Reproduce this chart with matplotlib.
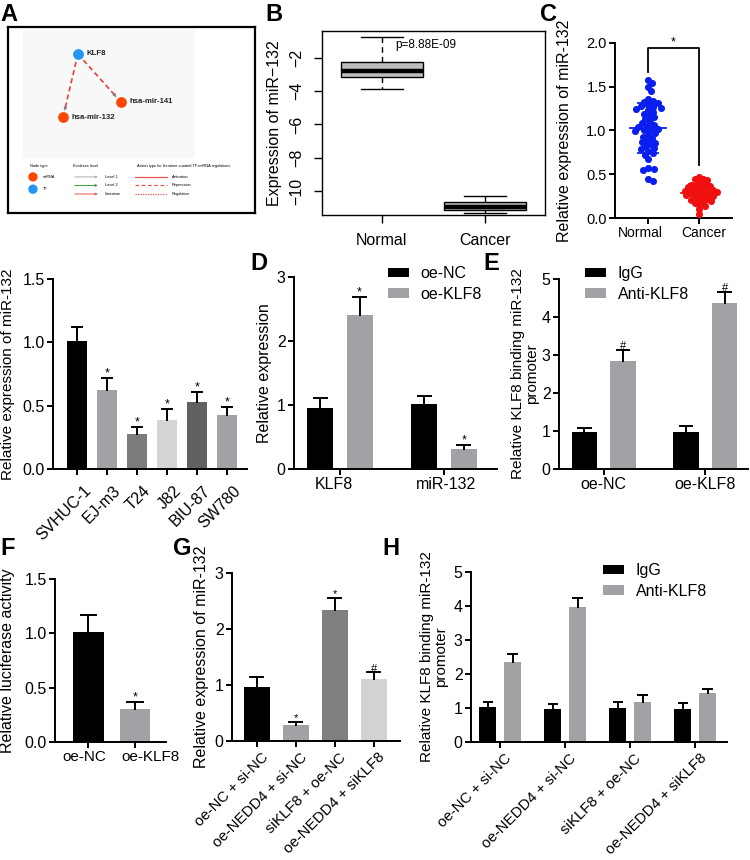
import numpy as np
import matplotlib.pyplot as plt
from matplotlib.patches import Rectangle
from matplotlib.transforms import ScaledTranslation

plt.rcParams['font.family'] = ['Liberation Sans', 'DejaVu Sans']

W, H = 750, 860

# ---------------- data ----------------
# B: TCGA boxplot (log expression)
b_groups = ['Normal', 'Cancer']
b_whislo = [-3.88, -11.30]
b_q1 = [-3.17, -11.15]
b_med = [-2.77, -10.95]
b_q3 = [-2.22, -10.65]
b_whishi = [-0.77, -10.28]
b_pval = 'p=8.88E-09'

# C: tissue samples
c_groups = ['Normal', 'Cancer']
c_normal = [1.58, 1.54, 1.50, 1.45, 1.36, 1.34, 1.33, 1.31, 1.29, 1.28, 1.27, 1.26,
            1.25, 1.23, 1.21, 1.19, 1.17, 1.15, 1.13, 1.10, 1.08, 1.06, 1.05, 1.04,
            1.02, 1.01, 1.00, 0.99, 0.97, 0.95, 0.93, 0.91, 0.89, 0.87, 0.86, 0.84,
            0.82, 0.80, 0.79, 0.77, 0.74, 0.72, 0.67, 0.57, 0.56, 0.55, 0.45, 0.42]
c_cancer = [0.47, 0.45, 0.44, 0.43, 0.42, 0.40, 0.39, 0.38, 0.37, 0.36, 0.36,
            0.35, 0.34, 0.33, 0.33, 0.32, 0.31, 0.31, 0.30, 0.30, 0.29, 0.28,
            0.28, 0.27, 0.26, 0.25, 0.25, 0.24, 0.23, 0.22, 0.21, 0.20, 0.19,
            0.18, 0.17, 0.15, 0.14, 0.10, 0.05]

# cell lines
cell_lines = ['SVHUC-1', 'EJ-m3', 'T24', 'J82', 'BIU-87', 'SW780']
cell_mean = [1.01, 0.62, 0.28, 0.39, 0.53, 0.43]
cell_err = [0.11, 0.10, 0.05, 0.08, 0.08, 0.06]
cell_sig = ['', '*', '*', '*', '*', '*']

# D
d_genes = ['KLF8', 'miR-132']
d_nc = [0.96, 1.02]
d_nc_err = [0.15, 0.12]
d_klf8 = [2.41, 0.31]
d_klf8_err = [0.27, 0.07]

# E
e_groups = ['oe-NC', 'oe-KLF8']
e_igg = [0.97, 0.97]
e_igg_err = [0.11, 0.15]
e_anti = [2.85, 4.37]
e_anti_err = [0.29, 0.30]

# F
f_groups = ['oe-NC', 'oe-KLF8']
f_mean = [1.01, 0.30]
f_err = [0.16, 0.07]

# G
g_groups = ['oe-NC + si-NC', 'oe-NEDD4 + si-NC', 'siKLF8 + oe-NC', 'oe-NEDD4 + siKLF8']
g_mean = [0.96, 0.28, 2.34, 1.11]
g_err = [0.19, 0.06, 0.22, 0.12]
g_sig = ['', '*', '*', '#']

# H
h_igg = [1.02, 0.96, 1.00, 0.97]
h_igg_err = [0.17, 0.15, 0.17, 0.18]
h_anti = [2.35, 3.97, 1.19, 1.44]
h_anti_err = [0.23, 0.27, 0.18, 0.12]

BLACK = '#000000'
GRAY = '#a2a2a6'
cell_colors = ['#000000', '#a2a2a6', '#7c7c7c', '#d4d4d4', '#616161', '#a2a2a6']
g_colors = ['#000000', '#a2a2a6', '#7f7f7f', '#d2d2d2']
FS = 11.5


def rect(x0, y0, x1, y1):
    return [x0 / W, 1 - y1 / H, (x1 - x0) / W, (y1 - y0) / H]


def prism(ax, lw=1.4, fs=FS):
    for s in ['top', 'right']:
        ax.spines[s].set_visible(False)
    for s in ['left', 'bottom']:
        ax.spines[s].set_linewidth(lw)
    ax.tick_params(direction='out', length=4, width=lw, labelsize=fs, pad=2)


def ylab_at(ax, box, px, text, fs=FS):
    # px = right edge of the rotated label, in figure pixels
    ax.set_ylabel(text, fontsize=fs)
    ax.yaxis.set_label_coords((px - box[0]) / (box[2] - box[0]), 0.5)


def shift_xlabels(ax, dxs, dy=0):
    for lab, dx in zip(ax.get_xticklabels(), dxs):
        lab.set_transform(lab.get_transform() + ScaledTranslation(dx / 100, -dy / 100, fig.dpi_scale_trans))


def errbars(ax, x, means, errs, width, sig=None, sig_size=9):
    for i in range(len(x)):
        top = means[i] + errs[i]
        ax.plot([x[i], x[i]], [means[i], top], color='black', lw=1.4, zorder=3)
        ax.plot([x[i] - width / 4, x[i] + width / 4], [top, top], color='black', lw=1.4, zorder=3)
        if sig and sig[i]:
            ax.annotate(sig[i], (x[i], top), xytext=(0, -1), textcoords='offset points',
                        ha='center', va='bottom', fontsize=sig_size)


def swarm(values, px_x, px_y, diam):
    values = np.asarray(values)
    order = np.argsort(values)[::-1]
    placed = []
    out = np.zeros(len(values))
    for i in order:
        y = values[i] * px_y
        dx = None
        for step in range(400):
            for sgn in (1, -1):
                cand = sgn * step * 0.5
                if all((cand - a) ** 2 + (y - b) ** 2 >= diam ** 2 for a, b in placed):
                    dx = cand
                    break
            if dx is not None:
                break
        placed.append((dx, y))
        out[i] = dx / px_x
    return out


fig = plt.figure(figsize=(W / 100, H / 100), dpi=100)

# ---------------- A: network ----------------
boxA = (8, 27, 255, 213)
axA = fig.add_axes(rect(*boxA))
axA.set_xlim(0, 1)
axA.set_ylim(0, 1)
axA.set_xticks([])
axA.set_yticks([])
for s in axA.spines.values():
    s.set_linewidth(1.6)
axA.add_patch(Rectangle((0.061, 0.296), 0.696, 0.688, color='#f8f8f8', lw=0))
nodes = {'KLF8': (0.283, 0.855, '#2196f3'),
         'hsa-mir-141': (0.457, 0.597, '#ff4500'),
         'hsa-mir-132': (0.223, 0.516, '#ff4500')}
for src, dst in [('KLF8', 'hsa-mir-132'), ('KLF8', 'hsa-mir-141')]:
    x0, y0, _ = nodes[src]
    x1, y1, _ = nodes[dst]
    axA.plot([x0, x0 + 0.86 * (x1 - x0)], [y0, y0 + 0.86 * (y1 - y0)],
             color='#f03a3a', lw=1.2, ls=(0, (3, 2)))
    axA.annotate('', xy=(x0 + 0.9 * (x1 - x0), y0 + 0.9 * (y1 - y0)),
                 xytext=(x0 + 0.83 * (x1 - x0), y0 + 0.83 * (y1 - y0)),
                 arrowprops=dict(arrowstyle='-|>', color='#808080', lw=0.6, mutation_scale=5))
for name, (x, y, col) in nodes.items():
    axA.scatter([x], [y], s=60, color=col, zorder=4, lw=0)
    axA.text(x + 0.035, y, name, fontsize=5.6, fontweight='bold', va='center', color='#222222')
lfs = 2.8
axA.text(0.089, 0.253, 'Node type', fontsize=lfs, va='center')
axA.text(0.263, 0.253, 'Evidence level', fontsize=lfs, va='center')
axA.text(0.522, 0.253, 'Action type for literature-curated TF-miRNA regulations', fontsize=lfs, va='center')
rows = [0.194, 0.148, 0.102]
axA.scatter([0.101, 0.101], [rows[0], rows[1] - 0.02], s=45, color=['#ff4500', '#2196f3'], zorder=3, lw=0)
axA.text(0.142, rows[0], 'miRNA', fontsize=lfs, va='center')
axA.text(0.142, rows[1] - 0.02, 'TF', fontsize=lfs, va='center')
for r, col, lab in zip(rows, ['#b0b0b0', '#3a9a3a', '#f05050'], ['Level 1', 'Level 2', 'Literature']):
    axA.annotate('', xy=(0.375, r), xytext=(0.259, r),
                 arrowprops=dict(arrowstyle='-|>', color=col, lw=0.7, mutation_scale=3))
    axA.text(0.393, r, lab, fontsize=lfs, va='center')
for r, ls, lab in zip(rows, ['-', (0, (3, 2)), (0, (1, 1))], ['Activation', 'Repression', 'Regulation']):
    axA.plot([0.514, 0.644], [r, r], color='#f05050', lw=0.9, ls=ls)
    axA.text(0.664, r, lab, fontsize=lfs, va='center')

# ---------------- B: boxplot ----------------
boxB = (322, 31, 545, 215)
axB = fig.add_axes(rect(*boxB))
stats = [dict(med=b_med[i], q1=b_q1[i], q3=b_q3[i], whislo=b_whislo[i],
              whishi=b_whishi[i], fliers=[], label=b_groups[i]) for i in range(2)]
axB.bxp(stats, positions=[1, 2], widths=0.8, capwidths=0.4, patch_artist=True,
        boxprops=dict(facecolor='#bebebe', edgecolor='black', lw=1),
        medianprops=dict(color='black', lw=3.2),
        whiskerprops=dict(color='black', lw=1, ls=(0, (4, 3))),
        capprops=dict(color='black', lw=1))
axB.set_xlim(0.42, 2.58)
axB.set_ylim(-11.44, -0.38)
axB.set_yticks([-10, -8, -6, -4, -2])
axB.set_yticklabels(['\u221210', '\u22128', '\u22126', '\u22124', '\u22122'], rotation=90, va='center')
axB.tick_params(direction='out', length=6, width=1, labelsize=11.5, pad=7)
for s in axB.spines.values():
    s.set_linewidth(1)
axB.text(1.13, -1.2, b_pval, fontsize=8.5, va='center', ha='left')
ylab_at(axB, boxB, 282, 'Expression of miR\u2212132')

# ---------------- C: scatter ----------------
boxC = (615, 43, 732, 218)
axC = fig.add_axes(rect(*boxC))
prism(axC, fs=10.5)
px_x, px_y = (boxC[2] - boxC[0]) / 2.3, (boxC[3] - boxC[1]) / 2.0
for i, (vals, col, d) in enumerate([(c_normal, '#0a1ef0', 5.2), (c_cancer, '#f01010', 4.2)]):
    xs = i + swarm(vals, px_x, px_y, d)
    axC.scatter(xs, vals, s=26, color=col, lw=0, zorder=3)
    m, sd = np.mean(vals), np.std(vals, ddof=1)
    axC.plot([i - 0.35, i + 0.35], [m, m], color=col, lw=1.3, zorder=4)
    axC.plot([i - 0.2, i + 0.2], [m + sd, m + sd], color=col, lw=1.3, zorder=4)
    axC.plot([i - 0.2, i + 0.2], [m - sd, m - sd], color=col, lw=1.3, zorder=4)
    axC.plot([i, i], [m - sd, m + sd], color=col, lw=1.3, zorder=4)
axC.plot([0, 0, 1, 1], [1.67, 1.94, 1.94, 0.61], color='black', lw=1.3)
axC.text(0.5, 1.94, '*', ha='center', va='bottom', fontsize=9)
axC.set_xlim(-0.65, 1.65)
axC.set_ylim(0, 2.0)
axC.set_yticks([0, 0.5, 1.0, 1.5, 2.0])
axC.set_yticklabels(['0.0', '0.5', '1.0', '1.5', '2.0'])
axC.set_xticks([0, 1])
axC.set_xticklabels(c_groups)
axC.tick_params(axis='x', labelsize=10)
shift_xlabels(axC, [-8, 5])
ylab_at(axC, boxC, 572, 'Relative expression of miR-132', fs=11.5)

# ---------------- cell lines ----------------
boxL = (53, 279, 247, 469)
axL = fig.add_axes(rect(*boxL))
prism(axL)
xL = np.arange(len(cell_lines))
axL.bar(xL, cell_mean, width=0.67, color=cell_colors, zorder=2)
errbars(axL, xL, cell_mean, cell_err, 0.67, cell_sig)
axL.set_xlim(-0.8, 5.67)
axL.set_ylim(0, 1.5)
axL.set_yticks([0, 0.5, 1.0, 1.5])
axL.set_yticklabels(['0.0', '0.5', '1.0', '1.5'])
axL.set_xticks(xL)
axL.set_xticklabels(cell_lines, rotation=45, ha='right', rotation_mode='anchor')
shift_xlabels(axL, [6] * 6, dy=6)
ylab_at(axL, boxL, 15, 'Relative expression of miR-132', fs=11)

# ---------------- D ----------------
boxD = (294, 277, 497, 469)
axD = fig.add_axes(rect(*boxD))
prism(axD)
xD = np.arange(len(d_genes))
bw = 0.25
axD.bar(xD - 0.19, d_nc, width=bw, color=BLACK, label='oe-NC', zorder=2)
axD.bar(xD + 0.19, d_klf8, width=bw, color=GRAY, label='oe-KLF8', zorder=2)
errbars(axD, xD - 0.19, d_nc, d_nc_err, bw)
errbars(axD, xD + 0.19, d_klf8, d_klf8_err, bw, ['*', '*'])
axD.set_xlim(-0.44, 1.51)
axD.set_ylim(0, 3)
axD.set_yticks([0, 1, 2, 3])
axD.set_xticks(xD)
axD.set_xticklabels(d_genes)
shift_xlabels(axD, [-6, 2])
ylab_at(axD, boxD, 272, 'Relative expression')
axD.legend(loc='upper left', bbox_to_anchor=(388 / W, 1 - 266 / H), bbox_transform=fig.transFigure,
           frameon=False, fontsize=FS, borderpad=0, borderaxespad=0, handlelength=1.3,
           handleheight=0.55, handletextpad=0.75, labelspacing=0.35)

# ---------------- E ----------------
boxE = (559, 279, 748, 469)
axE = fig.add_axes(rect(*boxE))
prism(axE)
xE = np.arange(len(e_groups))
axE.bar(xE - 0.19, e_igg, width=bw, color=BLACK, label='IgG', zorder=2)
axE.bar(xE + 0.19, e_anti, width=bw, color=GRAY, label='Anti-KLF8', zorder=2)
errbars(axE, xE - 0.19, e_igg, e_igg_err, bw)
errbars(axE, xE + 0.19, e_anti, e_anti_err, bw, ['#', '#'], sig_size=8)
axE.set_xlim(-0.44, 1.42)
axE.set_ylim(0, 5)
axE.set_yticks([0, 1, 2, 3, 4, 5])
axE.set_xticks(xE)
axE.set_xticklabels(e_groups)
ylab_at(axE, boxE, 539, 'Relative KLF8 binding miR-132\npromoter', fs=11)
axE.yaxis.label.set_multialignment('center')
axE.yaxis.label.set_linespacing(1.0)
axE.legend(loc='upper left', bbox_to_anchor=(585 / W, 1 - 266 / H), bbox_transform=fig.transFigure,
           frameon=False, fontsize=FS, borderpad=0, borderaxespad=0, handlelength=1.3,
           handleheight=0.55, handletextpad=0.75, labelspacing=0.35)

# ---------------- F ----------------
boxF = (55, 579, 166, 742)
axF = fig.add_axes(rect(*boxF))
prism(axF)
xF = np.arange(len(f_groups))
axF.bar(xF, f_mean, width=0.66, color=[BLACK, GRAY], zorder=2)
errbars(axF, xF, f_mean, f_err, 0.66, ['', '*'])
axF.set_xlim(-0.72, 1.67)
axF.set_ylim(0, 1.5)
axF.set_yticks([0, 0.5, 1.0, 1.5])
axF.set_yticklabels(['0.0', '0.5', '1.0', '1.5'])
axF.set_xticks(xF)
axF.set_xticklabels(f_groups)
axF.tick_params(axis='x', labelsize=11)
shift_xlabels(axF, [-4, 16])
ylab_at(axF, boxF, 15, 'Relative luciferase activity')

# ---------------- G ----------------
boxG = (232, 573, 400, 741)
axG = fig.add_axes(rect(*boxG))
prism(axG)
xG = np.arange(len(g_groups))
axG.bar(xG, g_mean, width=0.67, color=g_colors, zorder=2)
errbars(axG, xG, g_mean, g_err, 0.67, g_sig, sig_size=8)
axG.set_xlim(-0.64, 3.67)
axG.set_ylim(0, 3)
axG.set_yticks([0, 1, 2, 3])
axG.set_xticks(xG)
axG.set_xticklabels(g_groups, rotation=45, ha='right', rotation_mode='anchor')
axG.tick_params(axis='x', labelsize=10.8)
shift_xlabels(axG, [4] * 4, dy=1)
ylab_at(axG, boxG, 209, 'Relative expression of miR-132')

# ---------------- H ----------------
boxH = (471, 572, 727, 742)
axH = fig.add_axes(rect(*boxH))
prism(axH)
xH = np.arange(len(g_groups))
bh = 0.26
axH.bar(xH - 0.19, h_igg, width=bh, color=BLACK, label='IgG', zorder=2)
axH.bar(xH + 0.19, h_anti, width=bh, color=GRAY, label='Anti-KLF8', zorder=2)
errbars(axH, xH - 0.19, h_igg, h_igg_err, bh)
errbars(axH, xH + 0.19, h_anti, h_anti_err, bh)
axH.set_xlim(-0.45, 3.49)
axH.set_ylim(0, 5)
axH.set_yticks([0, 1, 2, 3, 4, 5])
axH.set_xticks(xH)
axH.set_xticklabels(g_groups, rotation=45, ha='right', rotation_mode='anchor')
axH.tick_params(axis='x', labelsize=10.8)
shift_xlabels(axH, [4] * 4, dy=1)
ylab_at(axH, boxH, 448, 'Relative KLF8 binding miR-132\npromoter', fs=11)
axH.yaxis.label.set_multialignment('center')
axH.yaxis.label.set_linespacing(1.0)
axH.legend(loc='upper left', bbox_to_anchor=(603 / W, 1 - 563 / H), bbox_transform=fig.transFigure,
           frameon=False, fontsize=FS, borderpad=0, borderaxespad=0, handlelength=1.3,
           handleheight=0.55, handletextpad=0.75, labelspacing=0.35)

# ---------------- panel letters ----------------
for lab, x, y in [('A', 0, 3), ('B', 265, 3), ('C', 540, 3), ('D', 250, 252),
                  ('E', 483, 252), ('F', 0, 537), ('G', 173, 537), ('H', 382, 537)]:
    fig.text(x / W, 1 - y / H, lab, fontsize=17, fontweight='bold', va='top', ha='left')

fig.savefig('out.png', dpi=100)
